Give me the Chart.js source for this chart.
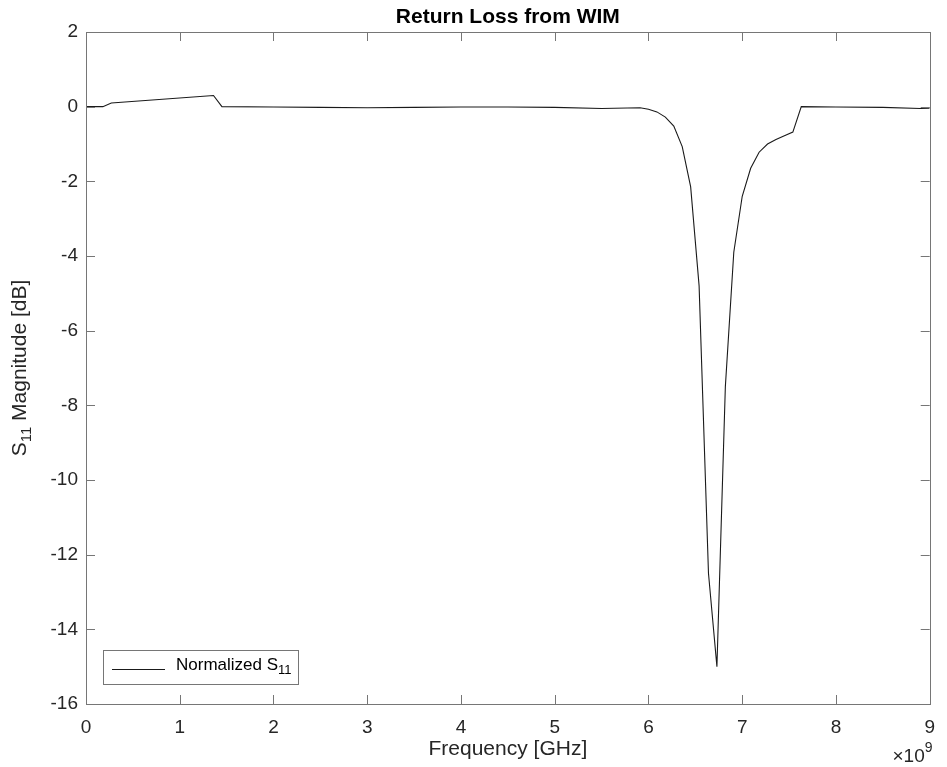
<!DOCTYPE html>
<html>
<head>
<meta charset="utf-8">
<script src="https://cdn.jsdelivr.net/npm/chart.js@4.4.1/dist/chart.umd.min.js"></script>
<style>
  html, body { margin: 0; padding: 0; background: #fff; }
  canvas { display: block; }
</style>
</head>
<body>
<canvas id="s11Chart" width="947" height="767"></canvas>
<script>
// S11 sweep, frequency in GHz (axis shows x10^9 Hz)
var freqGHz = [0, 0.18, 0.27, 1.36, 1.45, 2.0, 2.5, 3.0, 3.5, 4.0, 4.5, 5.0, 5.5, 5.91,
    6.00, 6.09, 6.18, 6.27, 6.36, 6.45, 6.54, 6.64, 6.73, 6.82, 6.91, 7.00, 7.09, 7.18,
    7.27, 7.36, 7.45, 7.54, 7.63, 8.0, 8.5, 8.9, 9.0];
var s11dB = [0, 0, 0.1, 0.3, 0, -0.01, -0.02, -0.03, -0.02, -0.01, -0.01, -0.02, -0.05, -0.03,
    -0.07, -0.14, -0.28, -0.52, -1.07, -2.15, -4.8, -12.5, -15.0, -7.5, -3.9, -2.4, -1.65, -1.22,
    -1.0, -0.88, -0.78, -0.68, 0, -0.01, -0.02, -0.05, -0.04];

var xTicks = [0, 1, 2, 3, 4, 5, 6, 7, 8, 9];
var yTicks = [-16, -14, -12, -10, -8, -6, -4, -2, 0, 2];

var FONT = "'Liberation Sans', Arial, Helvetica, sans-serif";
var TEXT = '#262626';
var AXIS = '#767676';

// writes "base" then a lowered, smaller "sub" after it; returns total width
function textWithSub(ctx, base, sub, rest, x, y, size, subSize) {
    ctx.font = size + 'px ' + FONT;
    ctx.fillText(base, x, y);
    var w = ctx.measureText(base).width;
    ctx.font = subSize + 'px ' + FONT;
    ctx.fillText(sub, x + w, y + size * 0.32);
    w += ctx.measureText(sub).width;
    if (rest) {
        ctx.font = size + 'px ' + FONT;
        ctx.fillText(rest, x + w, y);
        w += ctx.measureText(rest).width;
    }
    return w;
}

function widthWithSub(ctx, base, sub, rest, size, subSize) {
    ctx.font = size + 'px ' + FONT;
    var w = ctx.measureText(base).width + (rest ? ctx.measureText(rest).width : 0);
    ctx.font = subSize + 'px ' + FONT;
    return w + ctx.measureText(sub).width;
}

// box, inward ticks, titles, legend and exponent label
var matlabFrame = {
    id: 'matlabFrame',
    afterDraw: function (chart) {
        var ctx = chart.ctx;
        var a = chart.chartArea;
        var xs = chart.scales.x, ys = chart.scales.y;
        var tick = 9;
        ctx.save();
        ctx.strokeStyle = AXIS;
        ctx.lineWidth = 1;
        ctx.strokeRect(Math.round(a.left) + 0.5, Math.round(a.top) + 0.5,
            Math.round(a.width), Math.round(a.height));

        ctx.beginPath();
        xTicks.forEach(function (v) {
            var px = Math.round(xs.getPixelForValue(v)) + 0.5;
            ctx.moveTo(px, a.bottom); ctx.lineTo(px, a.bottom - tick);
            ctx.moveTo(px, a.top); ctx.lineTo(px, a.top + tick);
        });
        yTicks.forEach(function (v) {
            var py = Math.round(ys.getPixelForValue(v)) + 0.5;
            ctx.moveTo(a.left, py); ctx.lineTo(a.left + tick, py);
            ctx.moveTo(a.right, py); ctx.lineTo(a.right - tick, py);
        });
        ctx.stroke();

        var cx = (a.left + a.right) / 2;
        ctx.fillStyle = '#000';
        ctx.textAlign = 'center';
        ctx.textBaseline = 'middle';
        ctx.font = 'bold 21px ' + FONT;
        ctx.fillText('Return Loss from WIM', cx, 17);

        ctx.fillStyle = TEXT;
        ctx.font = '21px ' + FONT;
        ctx.fillText('Frequency [GHz]', cx, 749);

        // y axis title, rotated
        ctx.save();
        ctx.translate(20, (a.top + a.bottom) / 2);
        ctx.rotate(-Math.PI / 2);
        ctx.textAlign = 'left';
        var yw = widthWithSub(ctx, 'S', '11', ' Magnitude [dB]', 21, 15);
        textWithSub(ctx, 'S', '11', ' Magnitude [dB]', -yw / 2, 0, 21, 15);
        ctx.restore();

        // x10^9 under the right end of the x axis
        ctx.textAlign = 'left';
        ctx.font = '19px ' + FONT;
        var tw = ctx.measureText('\u00d710').width;
        ctx.fillText('\u00d710', a.right - 5 - tw, 757);
        ctx.font = '14px ' + FONT;
        ctx.fillText('9', a.right - 5, 748);

        // legend box, lower left
        var lx = 103, ly = 650, lw = 195, lh = 34;
        ctx.fillStyle = '#fff';
        ctx.fillRect(lx, ly, lw, lh);
        ctx.strokeStyle = AXIS;
        ctx.strokeRect(lx + 0.5, ly + 0.5, lw, lh);
        ctx.strokeStyle = '#1a1a1a';
        ctx.beginPath();
        ctx.moveTo(112, 669.5); ctx.lineTo(165, 669.5);
        ctx.stroke();
        ctx.fillStyle = '#000';
        textWithSub(ctx, 'Normalized S', '11', '', 176, 665, 17, 13);
        ctx.restore();
    }
};

var points = freqGHz.map(function (f, i) { return { x: f, y: s11dB[i] }; });

var ctx = document.getElementById('s11Chart').getContext('2d');
var s11Chart = new Chart(ctx, {
    type: 'line',
    data: {
        datasets: [{
            label: 'Normalized S11',
            data: points,
            borderColor: '#1a1a1a',
            borderWidth: 1.1,
            pointRadius: 0,
            tension: 0,
            fill: false
        }]
    },
    options: {
        responsive: false,
        animation: false,
        devicePixelRatio: 1,
        layout: { padding: { top: 32, right: 7, left: 0, bottom: 0 } },
        plugins: {
            legend: { display: false },
            tooltip: { enabled: false },
            title: { display: false }
        },
        scales: {
            x: {
                type: 'linear',
                min: 0,
                max: 9,
                afterBuildTicks: function (s) { s.ticks = xTicks.map(function (v) { return { value: v }; }); },
                afterFit: function (s) { s.height = 63; },
                grid: { display: false, drawTicks: false },
                border: { display: false },
                ticks: { padding: 12, color: TEXT, maxRotation: 0, font: { family: FONT, size: 19 } }
            },
            y: {
                type: 'linear',
                min: -16,
                max: 2,
                afterBuildTicks: function (s) { s.ticks = yTicks.map(function (v) { return { value: v }; }); },
                afterFit: function (s) { s.width = 86; },
                grid: { display: false, drawTicks: false },
                border: { display: false },
                ticks: { padding: 8, color: TEXT, font: { family: FONT, size: 19 } }
            }
        }
    },
    plugins: [matlabFrame]
});
</script>
</body>
</html>
